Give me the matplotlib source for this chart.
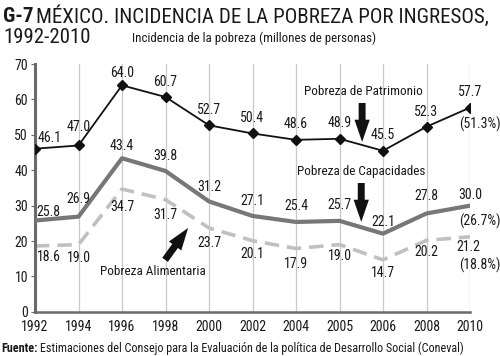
import matplotlib
matplotlib.use("Agg")
import matplotlib.pyplot as plt
from matplotlib import font_manager as fm

years = ["1992", "1994", "1996", "1998", "2000", "2002", "2004", "2005", "2006", "2008", "2010"]
patrimonio = [46.1, 47.0, 64.0, 60.7, 52.7, 50.4, 48.6, 48.9, 45.5, 52.3, 57.7]
capacidades = [25.8, 26.9, 43.4, 39.8, 31.2, 27.1, 25.4, 25.7, 22.1, 27.8, 30.0]
alimentaria = [18.6, 19.0, 34.7, 31.7, 23.7, 20.1, 17.9, 19.0, 14.7, 20.2, 21.2]
yticks = [0, 10, 20, 30, 40, 50, 60, 70]

names = {f.name for f in fm.fontManager.ttflist}
font = "DejaVu Sans"
for cand in ["Liberation Sans Narrow", "DejaVu Sans Condensed", "Roboto Condensed", "Open Sans Condensed"]:
    if cand in names:
        font = cand
        break
plt.rcParams["font.family"] = [font, "DejaVu Sans"]

TXT = "#1a1a1a"
fig = plt.figure(figsize=(5.0, 3.56), dpi=100)
ax = fig.add_axes([0.07, 0.124, 0.87, 0.696])
x = list(range(len(years)))

for xi in x[1:]:
    ax.axvline(xi, color="#c8c8c8", lw=0.9, zorder=0)

ax.plot(x, alimentaria, color="#c0c0c0", lw=2.6, ls=(0, (4, 2.2)), zorder=2)
ax.plot(x, capacidades, color="#777777", lw=3.0, zorder=3)
ax.plot(x, patrimonio, color="#111111", lw=1.3, marker="D", ms=5, zorder=4)

ax.set_xlim(0, 10)
ax.set_ylim(0, 70)
ax.set_xticks(x)
ax.set_xticklabels(years)
ax.set_yticks(yticks)
for s in ["top", "right"]:
    ax.spines[s].set_visible(False)
ax.spines["left"].set_color("#6a6a6a")
ax.spines["left"].set_linewidth(2.2)
ax.spines["bottom"].set_color("#6a6a6a")
ax.spines["bottom"].set_linewidth(1.8)
ax.tick_params(axis="y", length=3, width=0.8, color="#6a6a6a", labelsize=10, labelcolor=TXT, pad=2)
ax.tick_params(axis="x", length=0, labelsize=10, labelcolor=TXT, pad=6)

def lab(xi, yi, dx, dy, s=None):
    ax.annotate(s if s is not None else f"{yi:.1f}", (xi, yi), xytext=(dx, dy),
                textcoords="offset pixels", ha="center", va="center",
                fontsize=10, color=TXT, zorder=6)

# Patrimonio labels
pat_off = [(15, 11), (0, 18), (0, 12), (0, 15), (0, 15), (0, 15), (0, 16), (0, 16), (0, 16), (0, 15), (0, 16)]
for xi, (v, (dx, dy)) in enumerate(zip(patrimonio, pat_off)):
    lab(xi, v, dx, dy)
cap_off = [(13, 9), (0, 18), (0, 12), (0, 15), (0, 14), (0, 15), (0, 16), (0, 16), (0, 12), (0, 17), (0, 11)]
for xi, (v, (dx, dy)) in enumerate(zip(capacidades, cap_off)):
    lab(xi, v, dx, dy)
ali_off = [(14, -11), (0, -13), (0, -18), (0, -15), (0, -15), (0, -13), (0, -16), (0, -11), (0, -13), (0, -12), (-2, -10)]
for xi, (v, (dx, dy)) in enumerate(zip(alimentaria, ali_off)):
    lab(xi, v, dx, dy)

# percentages
for v, s, dy in [(patrimonio[-1], "(51.3%)", -17), (capacidades[-1], "(26.7%)", -16), (alimentaria[-1], "(18.8%)", -29)]:
    ax.annotate(s, (10, v), xytext=(10, dy), textcoords="offset pixels", ha="center", va="center",
                fontsize=10, color=TXT, annotation_clip=False)

# series annotations
arrow = dict(arrowstyle="simple,head_width=1.1,head_length=1.6,tail_width=0.5",
             color="#111111", lw=0, shrinkA=0, shrinkB=0)
ax.text(7.55, 62.2, "Pobreza de Patrimonio", ha="center", va="center", fontsize=9.5, color=TXT)
ax.annotate("", xy=(7.52, 48.0), xytext=(7.52, 59.0), arrowprops=arrow)
ax.text(7.5, 39.6, "Pobreza de Capacidades", ha="center", va="center", fontsize=9.5, color=TXT)
ax.annotate("", xy=(7.5, 25.4), xytext=(7.5, 36.4), arrowprops=arrow)
ax.text(2.7, 11.4, "Pobreza Alimentaria", ha="center", va="center", fontsize=9.5, color=TXT)
ax.annotate("", xy=(3.52, 23.7), xytext=(2.99, 14.7), arrowprops=arrow)

# titles
t1 = fig.text(0.006, 0.955, "G-7", fontsize=15, fontweight="bold", color=TXT, va="center", ha="left")
fig.canvas.draw()
bb = t1.get_window_extent()
fig.text((bb.x1 + 3) / 500, 0.955, "MÉXICO. INCIDENCIA DE LA POBREZA POR INGRESOS,",
         fontsize=15.1, color=TXT, va="center", ha="left")
fig.text(0.006, 0.895, "1992-2010", fontsize=15, color=TXT, va="center", ha="left")
fig.text(0.265, 0.892, "Incidencia de la pobreza (millones de personas)", fontsize=9.3, color=TXT,
         va="center", ha="left")

f1 = fig.text(0.002, 0.022, "Fuente:", fontsize=8.7, fontweight="bold", color=TXT, va="center", ha="left")
fig.canvas.draw()
bb = f1.get_window_extent()
fig.text((bb.x1 + 3) / 500, 0.022,
         "Estimaciones del Consejo para la Evaluación de la política de Desarrollo Social (Coneval)",
         fontsize=8.7, color=TXT, va="center", ha="left")

fig.savefig("out.png", dpi=100)
